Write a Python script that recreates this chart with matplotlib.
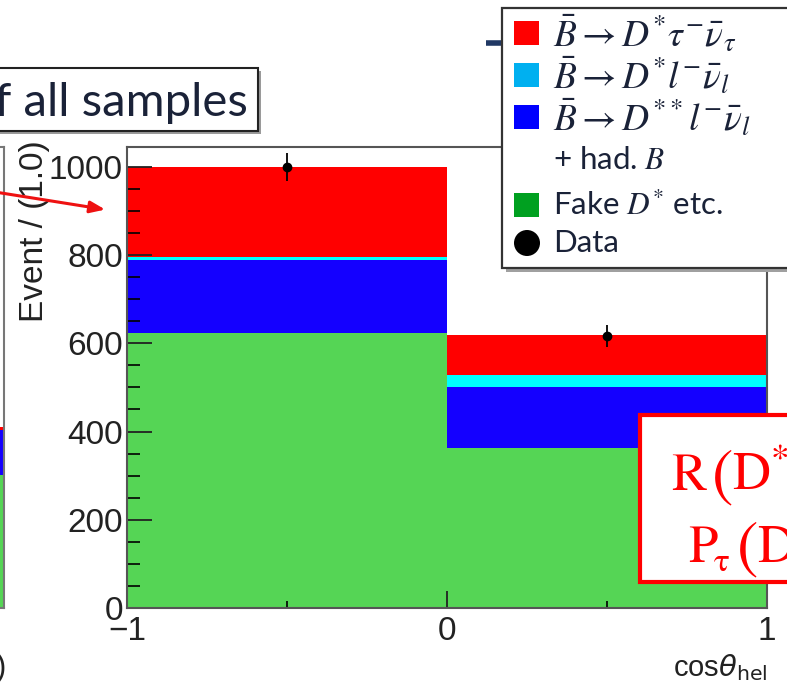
import numpy as np
import matplotlib
matplotlib.use("Agg")
import matplotlib.pyplot as plt
from matplotlib.patches import Rectangle, Circle

# ---- data -----------------------------------------------------------------
bin_edges = [-1.0, 0.0, 1.0]
fake_dstar = [623, 363]          # Fake D* etc.
dstarstar_lnu = [166, 138]       # B -> D** l nu + had. B
dstar_lnu = [7, 27]              # B -> D* l nu
dstar_taunu = [204, 91]          # B -> D* tau nu
data_counts = [1000, 617]
data_errors = [32, 25]

# neighbouring panel (only its right edge is in view)
side_fake = [302]
side_dss = [102]
side_tau = [6]

x_ticks = [-1, 0, 1]
y_ticks = [0, 200, 400, 600, 800, 1000]

hist_colors = {"tau": "#ff0000", "dstar": "#00ffff", "dss": "#1400ff", "fake": "#55d555"}
legend_colors = {"tau": "#ff0000", "dstar": "#00b0f0", "dss": "#0000ff", "fake": "#00a020"}
ink = "#1a2238"

W, H = 787, 693
fig = plt.figure(figsize=(W / 100, H / 100), dpi=100)
fig.patch.set_facecolor("white")


def px_axes(x0, y0, x1, y1):
    """Axes rectangle given in pixel coordinates (origin top-left)."""
    return [x0 / W, 1 - y1 / H, (x1 - x0) / W, (y1 - y0) / H]


def stacked(ax, edges, layers):
    edges = np.asarray(edges)
    centers = 0.5 * (edges[:-1] + edges[1:])
    widths = np.diff(edges)
    bottom = np.zeros(len(centers))
    for vals, col in layers:
        vals = np.asarray(vals, float)
        ax.bar(centers, vals, width=widths, bottom=bottom, color=col,
               linewidth=0, align="center", zorder=1)
        bottom += vals
    return centers


# ---- main histogram -------------------------------------------------------
ax = fig.add_axes(px_axes(127, 147, 767, 608))
centers = stacked(ax, bin_edges, [
    (fake_dstar, hist_colors["fake"]),
    (dstarstar_lnu, hist_colors["dss"]),
    (dstar_lnu, hist_colors["dstar"]),
    (dstar_taunu, hist_colors["tau"]),
])
ax.errorbar(centers, data_counts, yerr=data_errors, fmt="o", ms=6,
            color="black", elinewidth=1.3, capsize=0, zorder=5)
ax.set_xlim(bin_edges[0], bin_edges[-1])
ax.set_ylim(0, 1045)
ax.set_xticks(x_ticks)
ax.set_xticks([-0.5, 0.5], minor=True)
ax.set_yticks(y_ticks)
ax.set_yticks(np.arange(0, 1050, 50), minor=True)
ax.tick_params(axis="y", which="major", direction="in", length=18, width=1.3,
               pad=3, labelsize=24, colors="#222222")
ax.tick_params(axis="y", which="minor", direction="in", length=9, width=1.2)
ax.tick_params(axis="x", which="major", direction="in", length=12, width=1.3,
               pad=6, labelsize=24, colors="#222222")
ax.tick_params(axis="x", which="minor", direction="in", length=5, width=1.2)
for lab in ax.get_xticklabels() + ax.get_yticklabels():
    lab.set_family("Liberation Sans")
for s in ax.spines.values():
    s.set_color("#555555")
    s.set_linewidth(1.5)
    s.set_zorder(6)

# ---- neighbouring panel, cut by the left border ---------------------------
axl = fig.add_axes(px_axes(-200, 147, 4, 608))
stacked(axl, [0.0, 1.0], [
    (side_fake, hist_colors["fake"]),
    (side_dss, hist_colors["dss"]),
    (side_tau, hist_colors["tau"]),
])
axl.set_xlim(0, 1)
axl.set_ylim(0, 1045)
axl.set_xticks([])
axl.set_yticks([])
for s in axl.spines.values():
    s.set_color("#777777")
    s.set_linewidth(1.5)

# ---- overlay in pixel coordinates -----------------------------------------
ov = fig.add_axes([0, 0, 1, 1], zorder=10)
ov.set_xlim(0, W)
ov.set_ylim(H, 0)
ov.axis("off")
ov.patch.set_alpha(0)

ov.text(35, 140, "Event / (1.0)", rotation=90, ha="center", va="top",
        fontsize=24, family="Liberation Sans", color="#222222")
ov.text(767, 668, r"cos$\theta_{\mathrm{hel}}$", ha="right", va="center",
        fontsize=21, family="Liberation Sans", math_fontfamily="dejavusans",
        color="#222222")
ov.text(6, 668, ")", ha="right", va="center", fontsize=22,
        family="Liberation Sans", color="#222222")

# title box
ov.add_patch(Rectangle((-10 + 3, 68 + 3), 268, 63, fc="#9a9a9a", ec="none", zorder=1))
ov.add_patch(Rectangle((-10, 68), 268, 63, fc="white", ec="#222222", lw=1.5, zorder=2))
ov.text(248, 116, "of all samples", ha="right", va="baseline", fontsize=34,
        family="Lato", color=ink, zorder=3)

# arrow
ov.annotate("", xy=(108, 210), xytext=(-5, 192),
            arrowprops=dict(arrowstyle="-|>,head_length=0.9,head_width=0.35",
                            color="#ee1111", lw=2.2))

# short bar peeking from behind the legend
ov.plot([486, 506], [43, 43], color="#203864", lw=4, solid_capstyle="butt", zorder=1)

# legend
ov.add_patch(Rectangle((506, 12), 300, 260, fc="#a0a0a0", ec="none", zorder=3))
ov.add_patch(Rectangle((502, 8), 300, 260, fc="white", ec="#333333", lw=1.6, zorder=4))
rows = [
    (33, legend_colors["tau"], r"$\bar{B}\rightarrow D^{*}\tau^{-}\bar{\nu}_{\tau}$", 27),
    (75, legend_colors["dstar"], r"$\bar{B}\rightarrow D^{*}l^{-}\bar{\nu}_{l}$", 27),
    (117, legend_colors["dss"], r"$\bar{B}\rightarrow D^{**}l^{-}\bar{\nu}_{l}$", 27),
    (160, None, r"+ had. $B$", 22.5),
    (205, legend_colors["fake"], r"Fake $D^{*}$ etc.", 22.5),
]
for y, col, label, fs in rows:
    if col is not None:
        ov.add_patch(Rectangle((514, y - 12), 25, 24, fc=col, ec="none", zorder=5))
    ov.text(553, y, label, ha="left", va="center", fontsize=fs, family="Lato",
            math_fontfamily="stix", color=ink, zorder=5)
ov.add_patch(Circle((527, 243), 13, fc="black", ec="none", zorder=5))
ov.text(553, 243, "Data", ha="left", va="center", fontsize=22.5, family="Lato",
        color=ink, zorder=5)

# result box (text continues past the right border)
red = "#ff0000"
ov.add_patch(Rectangle((640, 415), 200, 167, fc="white", ec=red, lw=3, zorder=6))
box_txt = dict(ha="left", va="baseline", math_fontfamily="stix", color=red, zorder=7)
ov.text(671, 490, r"$\mathrm{R}$", fontsize=38, **box_txt)
ov.text(711, 494, r"$($", fontsize=46, **box_txt)
ov.text(732, 490, r"$\mathrm{D}^{*}$", fontsize=38, **box_txt)
ov.text(688, 562, r"$\mathrm{P}$", fontsize=38, **box_txt)
ov.text(714, 571, "τ", fontsize=24, family="STIXGeneral", ha="left", va="baseline",
        color=red, zorder=7)
ov.text(736, 566, r"$($", fontsize=46, **box_txt)
ov.text(757, 562, r"$\mathrm{D}$", fontsize=38, **box_txt)

fig.savefig("out.png", dpi=100)
